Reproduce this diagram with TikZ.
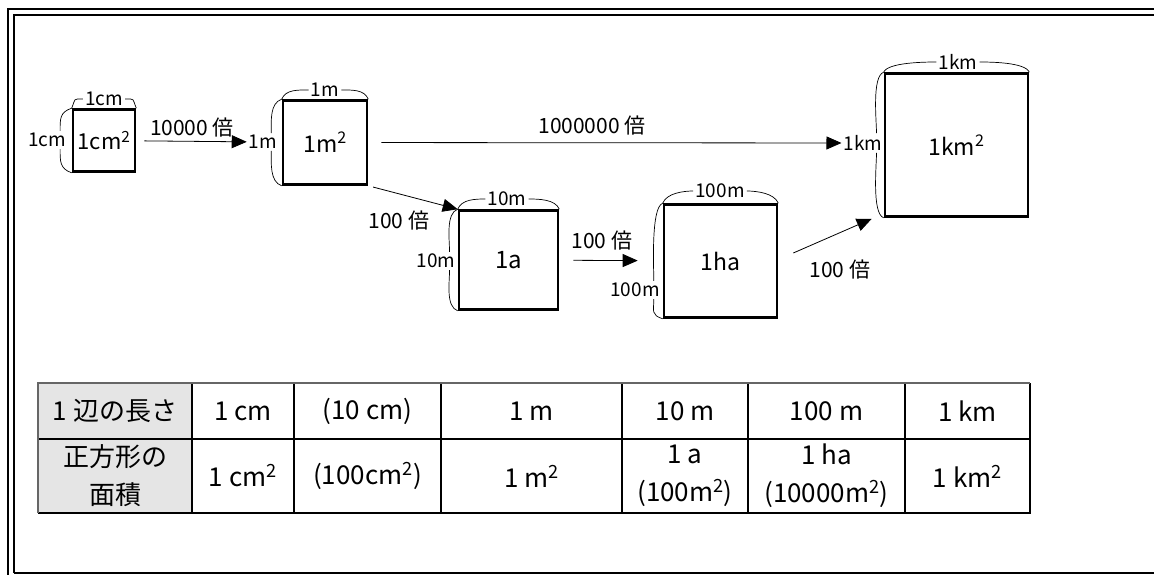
\documentclass[tikz,border=0pt]{standalone}
\usepackage{fontspec}
\setmainfont{Noto Sans CJK JP}
\usetikzlibrary{arrows.meta,calc}

\def\topbrace(#1)(#2){\draw[brace] (#1.north west) .. controls +(4,-10) and +(-10,0) .. (#2.west); \draw[brace] (#2.east) .. controls +(10,0) and +(-4,-10) .. (#1.north east);}
\def\leftbrace(#1)(#2){\draw[brace] (#1.north west) .. controls +(-12,4) and +(0,-12) .. ([xshift=-8pt]#2.north east); \draw[brace] ([xshift=-8pt]#2.south east) .. controls +(0,12) and +(-12,-4) .. (#1.south west);}

\tikzset{
  sq/.style={draw, line width=2.6pt, minimum size=#1, inner sep=0pt},
  lbl/.style={font=\fontsize{19}{22}\selectfont, inner sep=2pt},
  mul/.style={font=\fontsize{21}{24}\selectfont, inner sep=0pt},
  brace/.style={line width=0.7pt},
  arr/.style={line width=0.8pt, -{Triangle[length=15pt,width=13pt]}},
  cell/.style={font=\fontsize{26}{38}\selectfont, align=center, inner sep=0pt},
  grid/.style={line width=1.6pt},
  frame/.style={line width=2pt}
}

\begin{document}
\begin{tikzpicture}[x=1pt,y=-1pt]
			%%%%% FRAME %%%%%
			\clip (0,0) rectangle (1154,575);
			\fill[white] (0,0) rectangle (1154,575);
			\draw[frame] (7.5,580) -- (7.5,9) -- (1160,9);
			\draw[frame] (13.5,573) -- (13.5,15) -- (1160,15);
			\draw[frame] (13.5,573) -- (1160,573);
			
			%%%%% SQUARES %%%%%
			\node[sq=62pt, font=\fontsize{22}{26}\selectfont] (sqcm) at (104,140.5) {1cm\textsuperscript{2}};
			\node[sq=84pt, font=\fontsize{23}{26}\selectfont] (sqm) at (325,142.5) {1m\textsuperscript{2}};
			\node[sq=99pt, font=\fontsize{24}{26}\selectfont] (sqa) at (508.5,260) {1a};
			\node[sq=113pt, font=\fontsize{23}{26}\selectfont] (sqha) at (720.5,261) {1ha};
			\node[sq=143pt, font=\fontsize{23}{26}\selectfont] (sqkm) at (956.5,145) {1km\textsuperscript{2}};
			
			\node[lbl] (cmtop) at (104,99) {1cm};
			\node[lbl] (cmleft) at (47,140) {1cm};
			\node[lbl] (mtop) at (325,90) {1m};
			\node[lbl] (mleft) at (263,142) {1m};
			\node[lbl] (atop) at (507,199) {10m};
			\node[lbl] (aleft) at (436,261) {10m};
			\node[lbl] (hatop) at (720,191) {100m};
			\node[lbl] (haleft) at (635,290) {100m};
			\node[lbl] (kmtop) at (958,62) {1km};
			\node[lbl] (kmleft) at (863,143) {1km};
			
			\topbrace(sqcm)(cmtop)
			\leftbrace(sqcm)(cmleft)
			\topbrace(sqm)(mtop)
			\leftbrace(sqm)(mleft)
			\topbrace(sqa)(atop)
			\leftbrace(sqa)(aleft)
			\topbrace(sqha)(hatop)
			\leftbrace(sqha)(haleft)
			\topbrace(sqkm)(kmtop)
			\leftbrace(sqkm)(kmleft)
			
			%%%%% ARROWS %%%%%
			\draw[arr, shorten <=8pt] (sqcm) -- (mleft);
			\draw[arr, shorten <=13pt] (sqm) -- (kmleft);
			\draw[arr, shorten <=5pt] (sqm.south east) -- (sqa.north west);
			\draw[arr, shorten <=14pt, shorten >=25pt] (sqa) -- (sqha);
			\draw[arr] ($(sqha.east)+(15,-8)$) -- ($(sqkm.south west)+(-12,1)$);
			
			\node[mul] (x10000) at (192,128) {10000 倍};
			\node[mul] (x1000000) at (592,126) {1000000 倍};
			\node[mul] (x100a) at (399,221) {100 倍};
			\node[mul] (x100ha) at (602,241) {100 倍};
			\node[mul] (x100km) at (840,270) {100 倍};
			
			%%%%% TABLE %%%%%
			\fill[black!10] (38,383) rectangle (192,513);
			\draw[grid] (38,439) -- (1030,439);
			\foreach \cx in {192,294,441,622,748,905}
				\draw[grid] (\cx,383) -- (\cx,513);
			\draw[grid] (38,513) -- (1030,513) -- (1030,383);
			\draw[grid, black!60] (38,513) -- (38,383) -- (1030,383);
			
			\node[cell] (side) at (115,411) {1 辺の長さ};
			\node[cell] (scm) at (243,411) {1 cm};
			\node[cell] (sdm) at (367.5,411) {(10 cm)};
			\node[cell] (sm) at (531.5,411) {1 m};
			\node[cell] (sa) at (685,411) {10 m};
			\node[cell] (sha) at (826.5,411) {100 m};
			\node[cell] (skm) at (967.5,411) {1 km};
			
			\node[cell] (area) at (115,476) {正方形の\\面積};
			\node[cell] (acm) at (243,476) {1 cm\textsuperscript{2}};
			\node[cell] (adm) at (367.5,476) {(100cm\textsuperscript{2})};
			\node[cell] (am) at (531.5,476) {1 m\textsuperscript{2}};
			\node[cell] (aa) at (685,476) {1 a\\(100m\textsuperscript{2})};
			\node[cell] (aha) at (826.5,476) {1 ha\\(10000m\textsuperscript{2})};
			\node[cell] (akm) at (967.5,476) {1 km\textsuperscript{2}};
			
			%%%%% END %%%%%
\end{tikzpicture}
\end{document}
